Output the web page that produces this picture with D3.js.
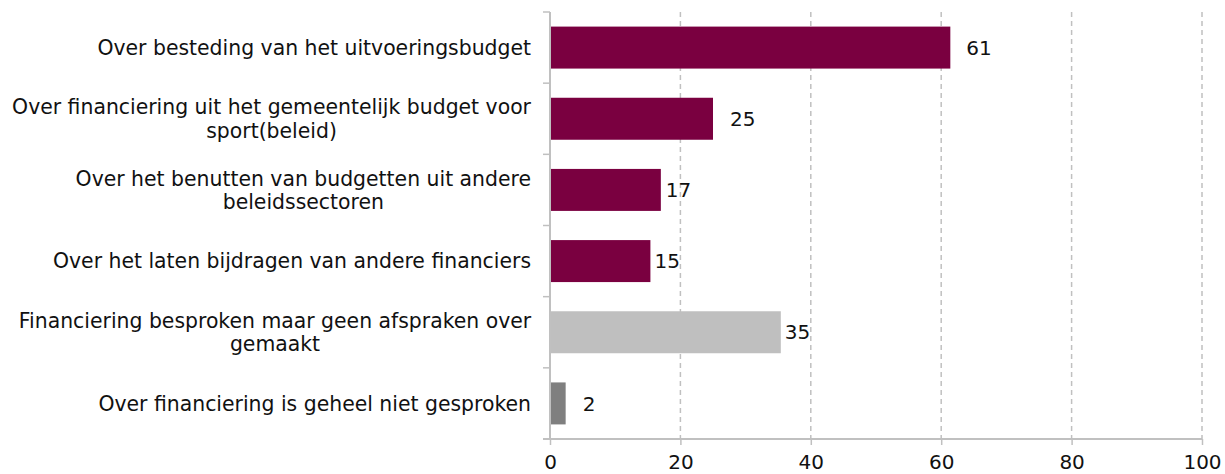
<!DOCTYPE html>
<html>
<head>
<meta charset="utf-8">
<script src="https://cdn.jsdelivr.net/npm/d3@7"></script>
<style>
  body { margin: 0; background: #fff; }
  svg text { font-family: "DejaVu Sans", sans-serif; fill: #111; }
</style>
</head>
<body>
<svg id="chart" width="1225" height="474"></svg>
<script>
'use strict';

// categories, top to bottom
const categories = [
	'Over besteding van het uitvoeringsbudget',
	'Over financiering uit het gemeentelijk budget voor sport(beleid)',
	'Over het benutten van budgetten uit andere beleidssectoren',
	'Over het laten bijdragen van andere financiers',
	'Financiering besproken maar geen afspraken over gemaakt',
	'Over financiering is geheel niet gesproken'
];
const values = [61.4, 25, 17, 15.4, 35.4, 2.4];
const valueLabels = ['61', '25', '17', '15', '35', '2'];
const barGroups = ['afspraak', 'afspraak', 'afspraak', 'afspraak', 'besproken', 'niet'];
const xTicks = [0, 20, 40, 60, 80, 100];

const colors = {afspraak: '#7a0040', besproken: '#bfbfbf', niet: '#7f7f7f'};
// gap between bar end and its label, as placed in the original
const labelGap = [16, 17, 5, 4, 4, 17];

const margin = {top: 12, right: 23, bottom: 35, left: 550};
const width = 1225, height = 474;
const svg = d3.select('#chart');

const x = d3.scaleLinear()
	.domain([0, 100])
	.range([margin.left, width - margin.right]);

const y = d3.scaleBand()
	.domain(categories)
	.range([margin.top, height - margin.bottom])
	.paddingInner(0.41)
	.paddingOuter(0.205);

const axisColor = '#c0c0c0';
const y0 = margin.top, y1 = height - margin.bottom;

// dashed grid lines
svg.append('g')
	.selectAll('line')
	.data(xTicks.filter(t => t > 0))
	.join('line')
		.attr('x1', d => x(d)).attr('x2', d => x(d))
		.attr('y1', y0).attr('y2', y1)
		.attr('stroke', axisColor)
		.attr('stroke-width', 1.5)
		.attr('stroke-dasharray', '5,4');

// bars
svg.append('g')
	.selectAll('rect')
	.data(values)
	.join('rect')
		.attr('x', x(0))
		.attr('y', (d, i) => y(categories[i]))
		.attr('width', d => x(d) - x(0))
		.attr('height', y.bandwidth())
		.attr('fill', (d, i) => colors[barGroups[i]]);

// value labels
svg.append('g')
	.selectAll('text')
	.data(values)
	.join('text')
		.attr('x', (d, i) => x(d) + labelGap[i])
		.attr('y', (d, i) => y(categories[i]) + y.bandwidth() / 2)
		.attr('dy', '0.36em')
		.attr('font-size', 20)
		.text((d, i) => valueLabels[i]);

// x axis
const xAxis = d3.axisBottom(x)
	.tickValues(xTicks)
	.tickSize(6)
	.tickSizeOuter(0)
	.tickPadding(9.5);
const gx = svg.append('g')
	.attr('transform', 'translate(0,' + y1 + ')')
	.call(xAxis);
gx.select('.domain').remove();
gx.selectAll('.tick line').attr('stroke', axisColor).attr('stroke-width', 1.5);
gx.selectAll('.tick text')
	.attr('font-size', 20)
	.attr('font-family', '"DejaVu Sans", sans-serif')
	.attr('fill', '#111');
gx.append('line')
	.attr('x1', x(0) - 7).attr('x2', x(100))
	.attr('stroke', axisColor).attr('stroke-width', 2);

// y axis line and band ticks
svg.append('line')
	.attr('x1', x(0)).attr('x2', x(0))
	.attr('y1', y0).attr('y2', y1)
	.attr('stroke', axisColor).attr('stroke-width', 2);
svg.append('g')
	.selectAll('line')
	.data(d3.range(categories.length))
	.join('line')
		.attr('x1', x(0) - 7).attr('x2', x(0))
		.attr('y1', i => y(categories[i]) - y.step() * y.paddingInner() / 2)
		.attr('y2', i => y(categories[i]) - y.step() * y.paddingInner() / 2)
		.attr('stroke', axisColor).attr('stroke-width', 1.5);

// category labels, wrapped and centred as a right-aligned block
const labelRight = x(0) - 19;
const wrapWidth = 540;
const lineHeight = 23.5;

const labels = svg.append('g')
	.selectAll('text')
	.data(categories)
	.join('text')
		.attr('font-size', 20.4);

labels.each(function(cat){
	const t = d3.select(this);
	const words = cat.split(' ');
	const lines = [];
	let cur = [];
	const probe = t.append('tspan');
	words.forEach(w => {
		probe.text(cur.concat(w).join(' '));
		if(probe.node().getComputedTextLength() > wrapWidth && cur.length){
			lines.push(cur.join(' '));
			cur = [w];
		} else {
			cur.push(w);
		}
	});
	lines.push(cur.join(' '));
	probe.remove();

	const spans = lines.map(l => t.append('tspan').text(l));
	const maxW = d3.max(spans, s => s.node().getComputedTextLength());
	const cx = labelRight - maxW / 2;
	const cy = y(cat) + y.bandwidth() / 2;
	spans.forEach((s, i) => {
		s.attr('x', cx)
			.attr('text-anchor', 'middle')
			.attr('y', cy + (i - (lines.length - 1) / 2) * lineHeight)
			.attr('dy', '0.36em');
	});
});
</script>
</body>
</html>
